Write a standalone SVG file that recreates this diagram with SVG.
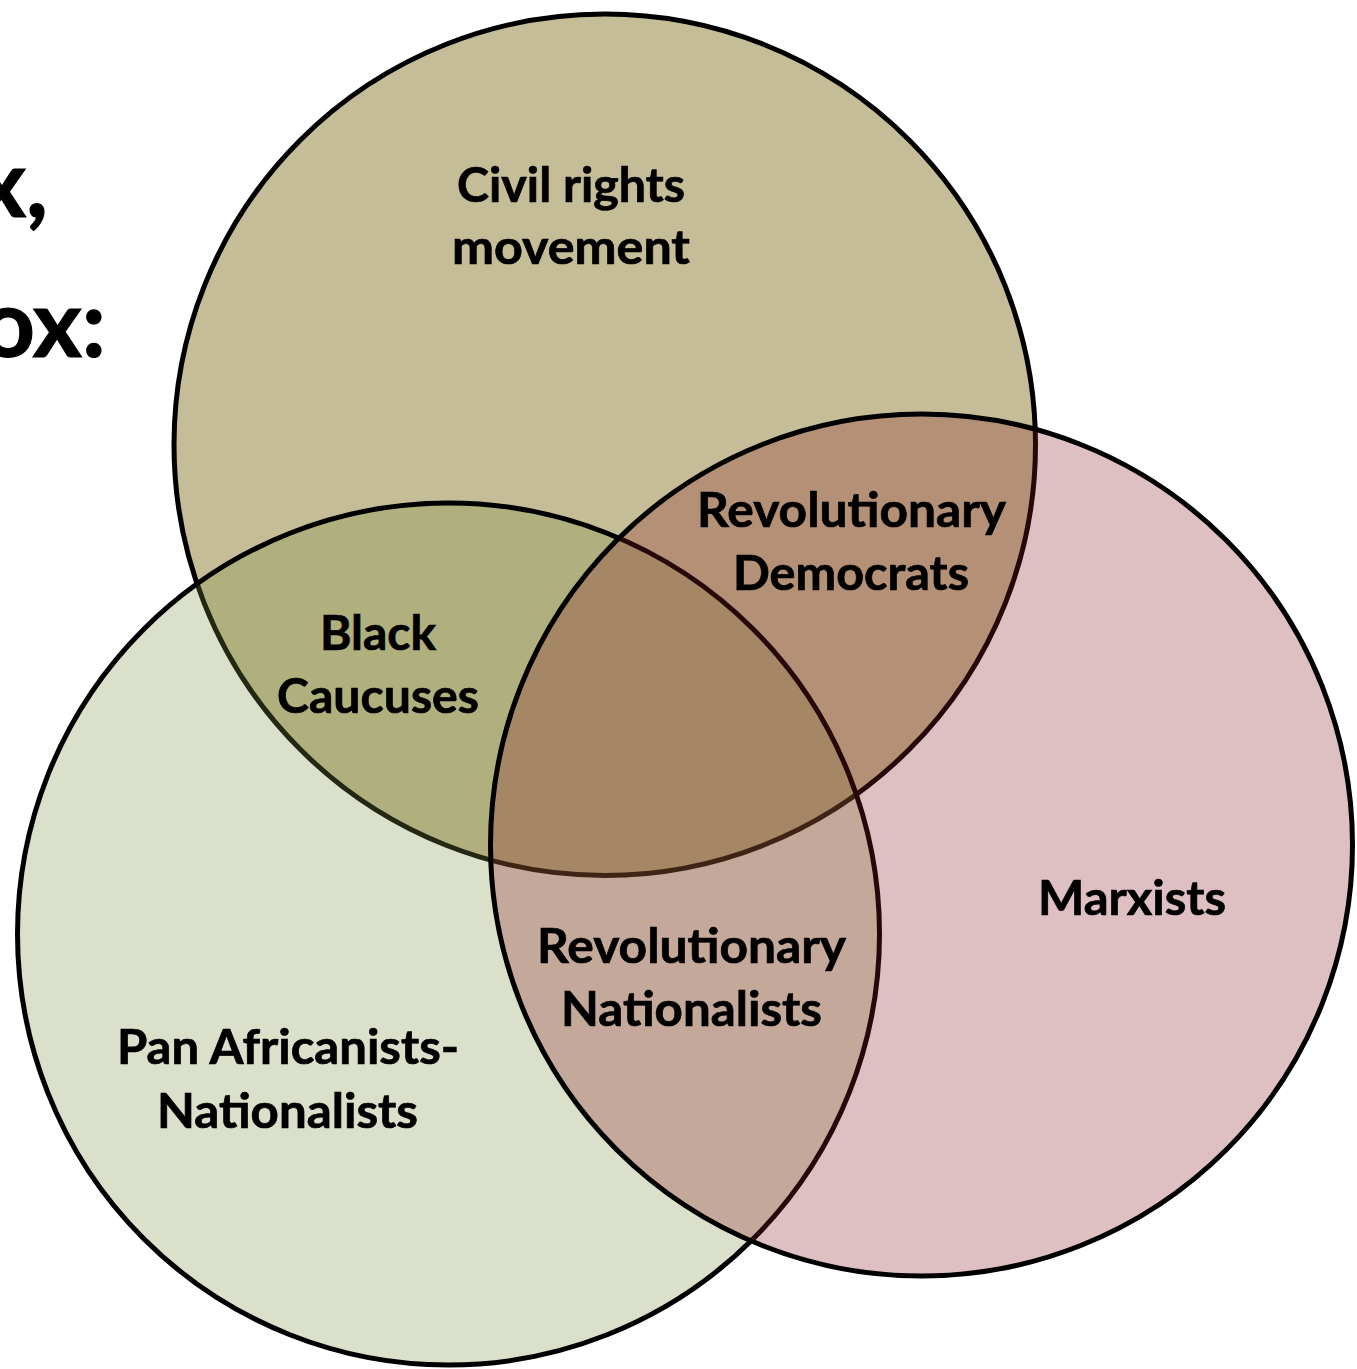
<svg xmlns="http://www.w3.org/2000/svg" width="1357" height="1369" viewBox="0 0 1357 1369">
<style>
.ring{stroke:#000;stroke-width:5}
.lbl{font-family:Lato,"Open Sans","Liberation Sans",sans-serif;font-weight:bold;font-size:48px;fill:#000;stroke:#000;stroke-width:0.7}
.ttl{font-family:Lato,"Open Sans","Liberation Sans",sans-serif;font-weight:bold;font-size:94px;fill:#000;stroke:#000;stroke-width:1.2;text-anchor:end}
</style>
<rect width="1357" height="1369" fill="#fff"/>
<g id="title">
<text class="ttl" x="48" y="217">x,</text>
<text class="ttl" x="106" y="357">ox:</text>
</g>
<g id="civil-rights">
<circle class="ring" cx="604.75" cy="444.75" r="430.75" fill="#C4BD97"/>
</g>
<g id="pan-africanists">
<circle class="ring" cx="448.5" cy="934" r="431" fill="rgb(123,144,62)" fill-opacity="0.28"/>
</g>
<g id="marxists">
<circle class="ring" cx="921.5" cy="845" r="431" fill="rgb(141,30,37)" fill-opacity="0.28"/>
</g>
<g id="labels">
<g id="label-civil-rights">
<text class="lbl" x="457" y="202" textLength="228" lengthAdjust="spacingAndGlyphs">Civil rights</text>
<text class="lbl" x="452" y="264" textLength="238" lengthAdjust="spacingAndGlyphs">movement</text>
</g>
<g id="label-revolutionary-democrats">
<text class="lbl" x="697" y="527" textLength="309" lengthAdjust="spacingAndGlyphs">Revolutionary</text>
<text class="lbl" x="733" y="590" textLength="236" lengthAdjust="spacingAndGlyphs">Democrats</text>
</g>
<g id="label-black-caucuses">
<text class="lbl" x="320" y="650" textLength="116" lengthAdjust="spacingAndGlyphs">Black</text>
<text class="lbl" x="277" y="713" textLength="202" lengthAdjust="spacingAndGlyphs">Caucuses</text>
</g>
<g id="label-marxists">
<text class="lbl" x="1038" y="915" textLength="188" lengthAdjust="spacingAndGlyphs">Marxists</text>
</g>
<g id="label-revolutionary-nationalists">
<text class="lbl" x="537" y="963" textLength="309" lengthAdjust="spacingAndGlyphs">Revolutionary</text>
<text class="lbl" x="561" y="1026" textLength="261" lengthAdjust="spacingAndGlyphs">Nationalists</text>
</g>
<g id="label-pan-africanists">
<text class="lbl" x="117" y="1064" textLength="342" lengthAdjust="spacingAndGlyphs">Pan Africanists-</text>
<text class="lbl" x="157" y="1128" textLength="261" lengthAdjust="spacingAndGlyphs">Nationalists</text>
</g>
</g>
</svg>
